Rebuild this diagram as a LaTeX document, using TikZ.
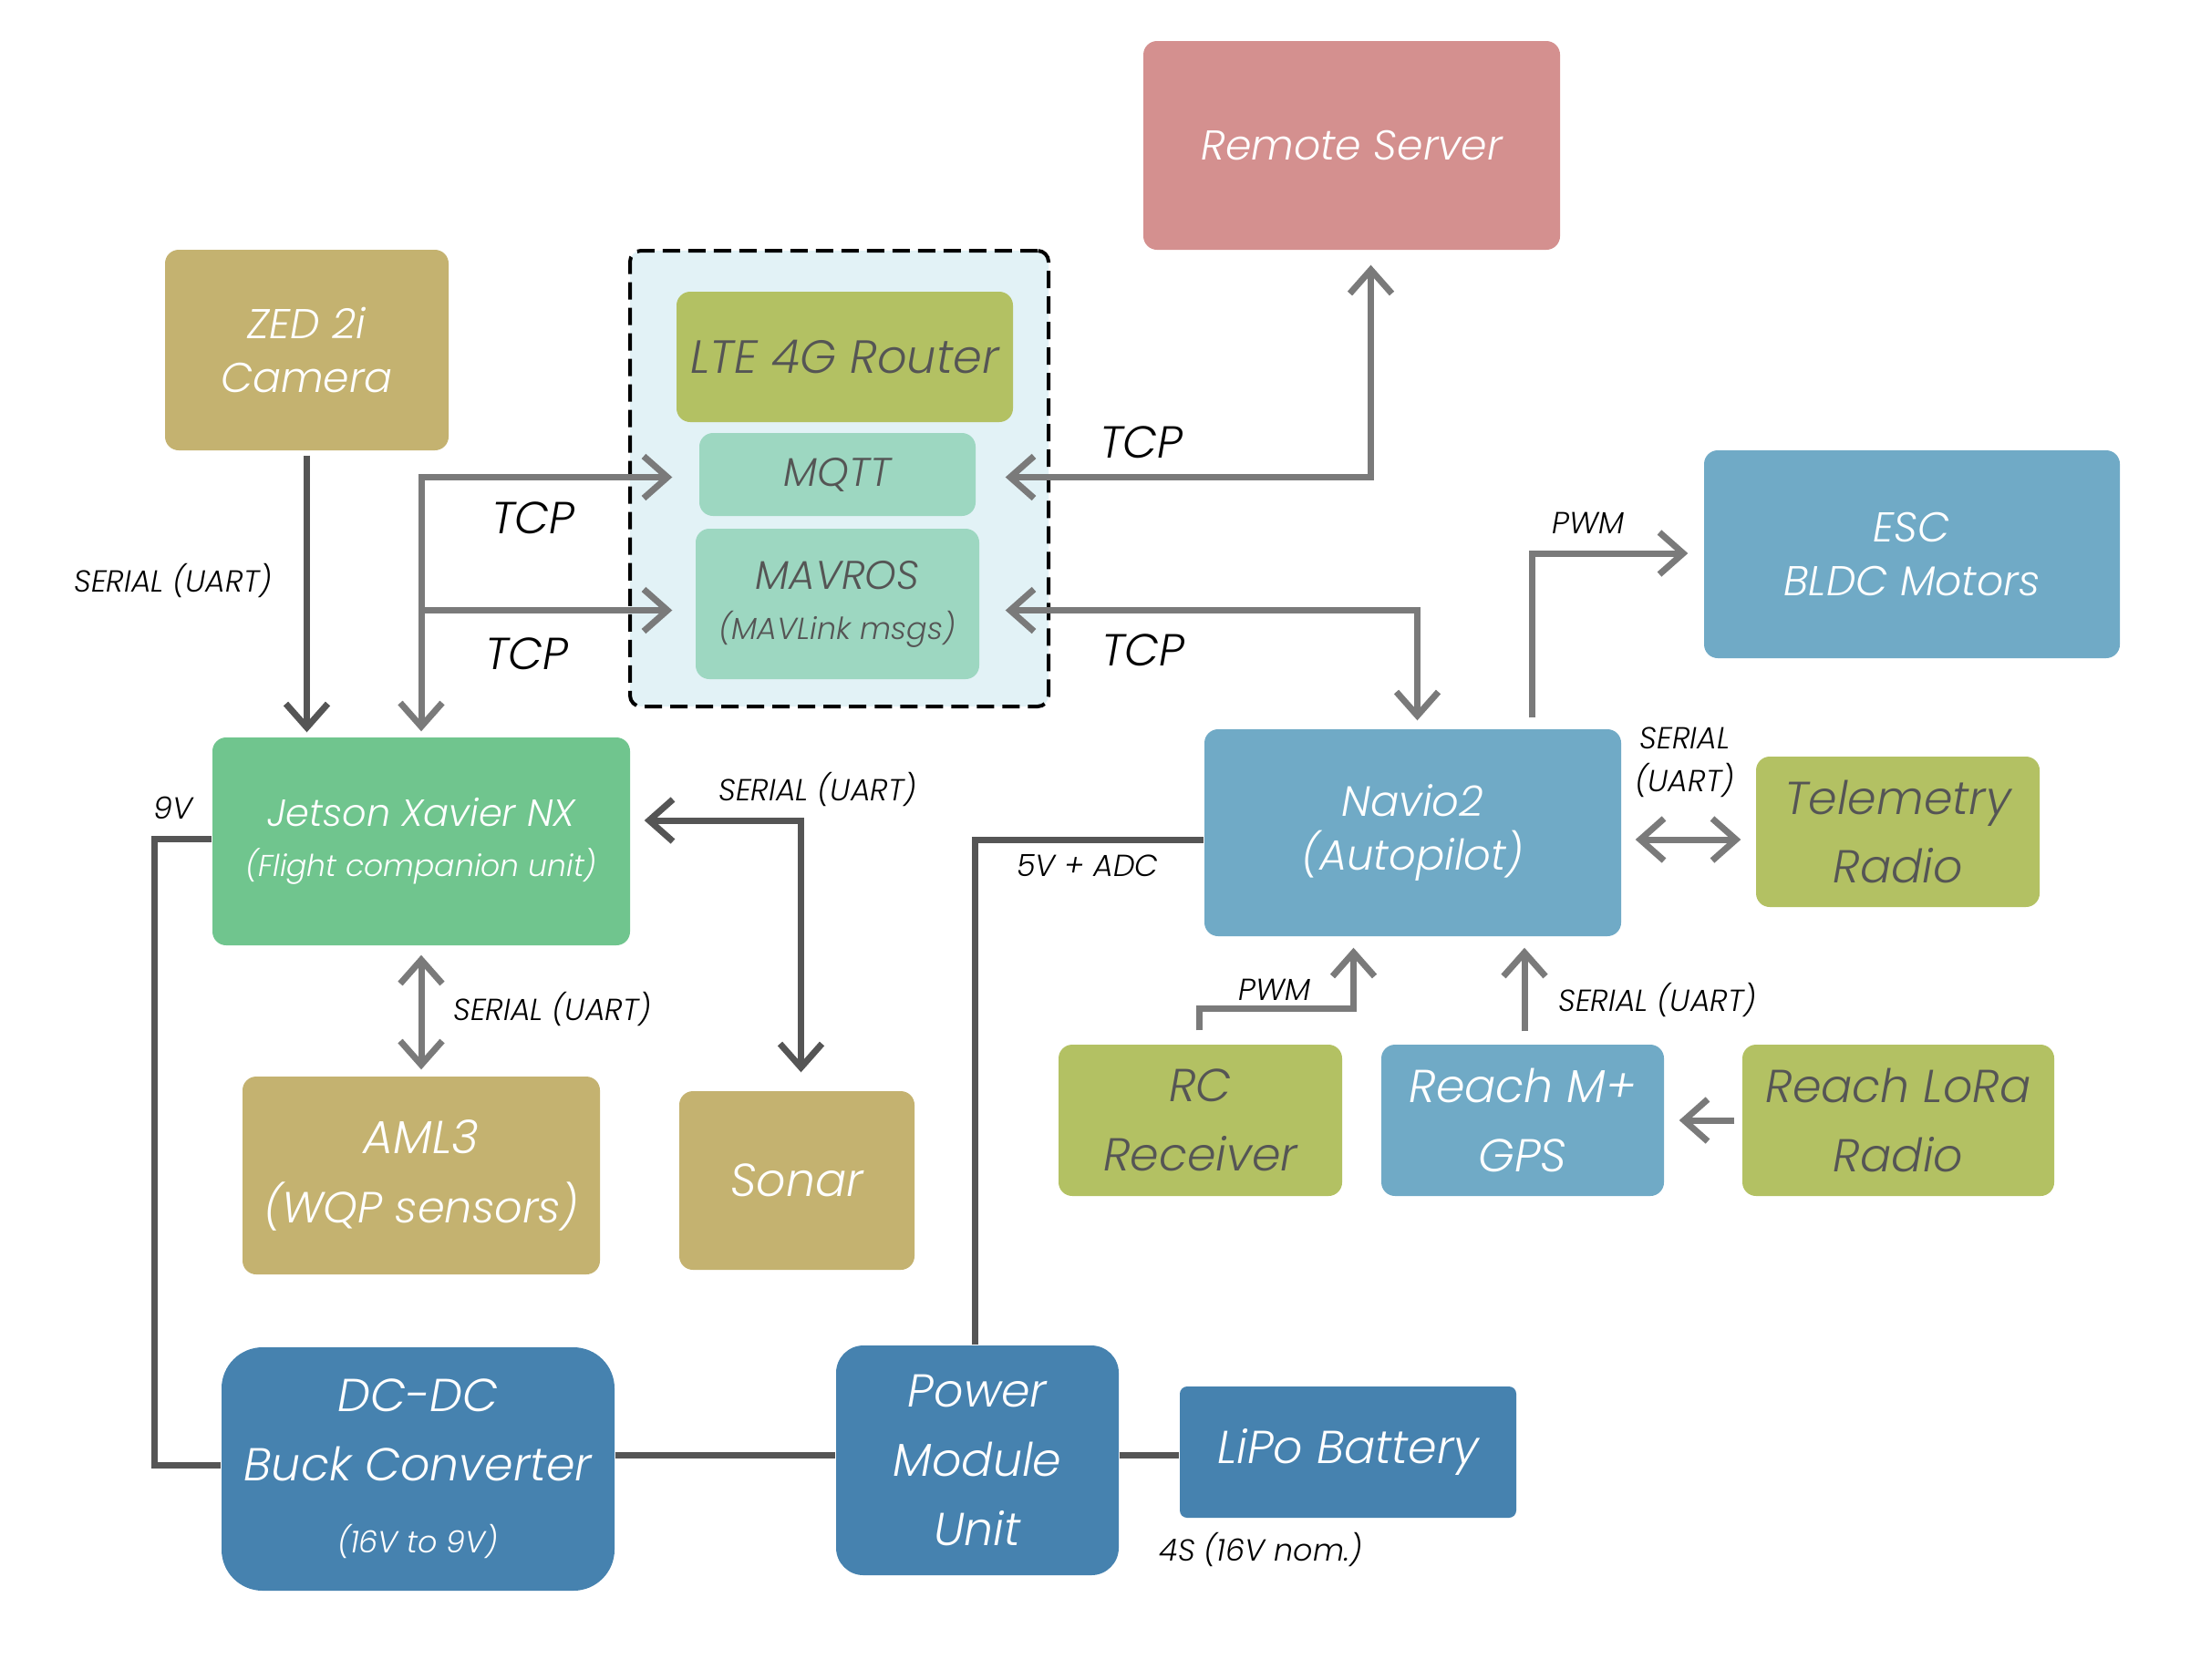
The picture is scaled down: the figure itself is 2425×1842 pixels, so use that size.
\documentclass[tikz,border=0pt]{standalone}
\usepackage{fontspec}
\setmainfont{Poppins}[ItalicFont={Poppins Light Italic}]
\usetikzlibrary{arrows.meta,calc}
\definecolor{cRemote}{HTML}{D4908F}
\definecolor{cKhaki}{HTML}{C4B270}
\definecolor{cOlive}{HTML}{B3C163}
\definecolor{cMint}{HTML}{9DD7C1}
\definecolor{cBg}{HTML}{E2F2F6}
\definecolor{cGreen}{HTML}{70C58E}
\definecolor{cBlue}{HTML}{70AAC6}
\definecolor{cDark}{HTML}{4682AF}
\definecolor{cArrow}{HTML}{7A7A7A}
\definecolor{cLine}{HTML}{555555}
\definecolor{cTxt}{HTML}{555555}
\newcommand\myfs[2]{\fontsize{#1}{#2}\selectfont\itshape}
\tikzset{
  sz/.style 2 args={minimum width=#1*0.01cm, minimum height=#2*0.01cm},
  box/.style={inner sep=0pt, align=center, rounded corners=0.15cm},
  wt/.style={text=white},
  gt/.style={text=cTxt},
  fbig/.style={font=\myfs{14.4}{21.5}},
  fmid/.style={font=\myfs{13}{17}},
  lbl/.style={inner sep=0pt, align=center, text=black, font=\myfs{9.5}{13.3}},
  tcp/.style={inner sep=0pt, text=black, font=\myfs{14}{16}},
  garrow/.style={draw=cArrow, line width=0.07cm},
  darrow/.style={draw=cLine, line width=0.07cm},
  dline/.style={draw=cLine, line width=0.07cm},
  >={Straight Barb[length=0.26cm,width=0.46cm]}
}
\begin{document}
\begin{tikzpicture}[x=0.01cm,y=-0.01cm]
\useasboundingbox (0,0) rectangle (2425,1842);
% boxes
\node[box, fill=cRemote, wt, fmid, sz={457}{229}] (remote) at (1482.5,159.5) {Remote Server};
\node[box, fill=cKhaki, wt, fmid, sz={311}{220}] (zed) at (336.5,384) {ZED 2i\\Camera};
\node[draw=black, line width=0.04cm, dash pattern=on 0.19cm off 0.09cm, fill=cBg, rounded corners=0.12cm, sz={459}{500}, inner sep=0pt] (grp) at (920.5,525) {};
\node[box, fill=cOlive, gt, font=\myfs{14.5}{17}, sz={369}{143}] (lte) at (926.5,391.5) {LTE 4G Router};
\node[box, fill=cMint, gt, font=\myfs{12.5}{15}, sz={303}{91}] (mqtt) at (918.5,520.5) {MQTT};
\node[box, fill=cMint, gt, font=\myfs{12.5}{15.6}, sz={311}{165}] (mavros) at (918.5,662.5) {MAVROS\\{\myfs{9.5}{12}(MAVLink msgs)}};
\node[box, fill=cGreen, wt, font=\myfs{11.8}{15.6}, sz={458}{228}] (jet) at (462,923) {Jetson Xavier NX\\{\myfs{9.4}{12}(Flight companion unit)}};
\node[box, fill=cKhaki, wt, fbig, sz={392}{217}] (aml) at (462,1289.5) {AML3\\{\myfs{13.6}{21.5}(WQP sensors)}};
\node[box, fill=cKhaki, wt, fbig, sz={258}{196}] (sonar) at (874,1295) {Sonar};
\node[box, fill=cDark, wt, fbig, rounded corners=0.45cm, sz={431}{267}] (dcdc) at (458.5,1611.5) {DC-DC\\Buck Converter\\[1pt]{\myfs{9.5}{12}(16V to 9V)}};
\node[box, fill=cDark, wt, fbig, rounded corners=0.3cm, sz={310}{252}] (power) at (1072,1602) {Power\\Module\\Unit};
\node[box, fill=cDark, wt, fbig, rounded corners=0.08cm, sz={369}{144}] (lipo) at (1478.5,1593) {LiPo Battery};
\node[box, fill=cBlue, wt, fmid, sz={456}{228}] (esc) at (2097,608) {ESC\\BLDC Motors};
\node[box, fill=cBlue, wt, font=\myfs{13.2}{17}, sz={457}{227}] (navio) at (1549.5,913.5) {Navio2\\(Autopilot)};
\node[box, fill=cOlive, gt, fbig, sz={311}{165}] (telem) at (2081.5,912.5) {Telemetry\\Radio};
\node[box, fill=cOlive, gt, fbig, sz={311}{166}] (rc) at (1316.5,1229) {RC\\Receiver};
\node[box, fill=cBlue, wt, fbig, sz={310}{166}] (gps) at (1670,1229) {Reach M+\\GPS};
\node[box, fill=cOlive, gt, fbig, sz={342}{166}] (lora) at (2082,1229) {Reach LoRa\\Radio};
% labels
\node[lbl] (l1) at (190,637) {SERIAL (UART)};
\node[tcp] (tcp1) at (585,568) {TCP};
\node[tcp] (tcp2) at (578,717) {TCP};
\node[tcp] (tcp3) at (1252,485) {TCP};
\node[tcp] (tcp4) at (1254,713) {TCP};
\node[lbl] (pwm1) at (1742,574) {PWM};
\node[lbl] (ser2) at (1848,836) {SERIAL\\(UART)};
\node[lbl] (v9) at (190,886) {9V};
\node[lbl] (ser3) at (897,866) {SERIAL (UART)};
\node[lbl] (ser4) at (606,1107) {SERIAL (UART)};
\node[lbl] (v5) at (1193,950) {5V + ADC};
\node[lbl] (pwm2) at (1398,1086) {PWM};
\node[lbl] (ser5) at (1818,1097) {SERIAL (UART)};
\node[lbl] (s4) at (1383,1700) {4S (16V nom.)};
% connectors
\draw[darrow, ->] ($(zed.south)+(0,5)$) -- ($(zed.south |- jet.north)+(0,-5)$);
\coordinate (tj) at ($(jet.north)+(0,-6)$);
\coordinate (mql) at ($(mqtt.west)+(-29,3)$);
\coordinate (mvl) at ($(mavros.west)+(-25,7)$);
\draw[garrow, <->] (mql) -- (jet.north |- mql) -- (tj);
\draw[garrow, ->] (jet.north |- mvl) -- (mvl);
\coordinate (mqr) at ($(mqtt.east)+(32,3)$);
\coordinate (rs) at ($(remote.south)+(21,16)$);
\draw[garrow, <->] (mqr) -- (rs |- mqr) -- (rs);
\coordinate (mvr) at ($(mavros.east)+(28,7)$);
\coordinate (nt) at ($(navio.north)+(5,-9)$);
\draw[garrow, <->] (mvr) -- (nt |- mvr) -- (nt);
\coordinate (np) at ($(navio.north)+(131,-12)$);
\coordinate (ew) at ($(esc.west)+(-17,-1)$);
\draw[garrow, ->] (np) -- (np |- ew) -- (ew);
\coordinate (ta) at ($(navio.east)+(15,7.5)$);
\coordinate (tb) at ($(telem.west |- ta)+(-16,0)$);
\draw[garrow, <->] (ta) -- (tb);
\coordinate (rcn) at ($(rc.north)+(-1,-15)$);
\coordinate (nb1) at ($(navio.south)+(-65,12)$);
\draw[garrow, ->] (rcn) -- ($(rcn)+(0,-24)$) -| (nb1);
\coordinate (gn) at ($(gps.north)+(2,-14)$);
\draw[garrow, ->] (gn) -- (gn |- nb1);
\draw[garrow, ->] ($(lora.west)+(-8,0)$) -- ($(gps.east)+(16,0)$);
\coordinate (js) at ($(jet.east)+(15,-23)$);
\coordinate (st) at ($(sonar.north)+(4.5,-20)$);
\draw[darrow, <->] (js) -- (st |- js) -- (st);
\draw[garrow, <->] ($(jet.south)+(0,10)$) -- ($(aml.north)+(0,-7)$);
\draw[dline] ($(jet.west)+(0,-3)$) -- ++(-63,0) |- ($(dcdc.west)+(0,-4.5)$);
\coordinate (pl) at ($(power.west)+(0,-6)$);
\draw[dline] (dcdc.east |- pl) -- (pl);
\coordinate (pr) at ($(power.east)+(0,-6)$);
\draw[dline] (pr) -- (lipo.west |- pr);
\draw[dline] ($(power.north)+(-3,0)$) |- ($(navio.west)+(0,7.5)$);
\end{tikzpicture}
\end{document}
